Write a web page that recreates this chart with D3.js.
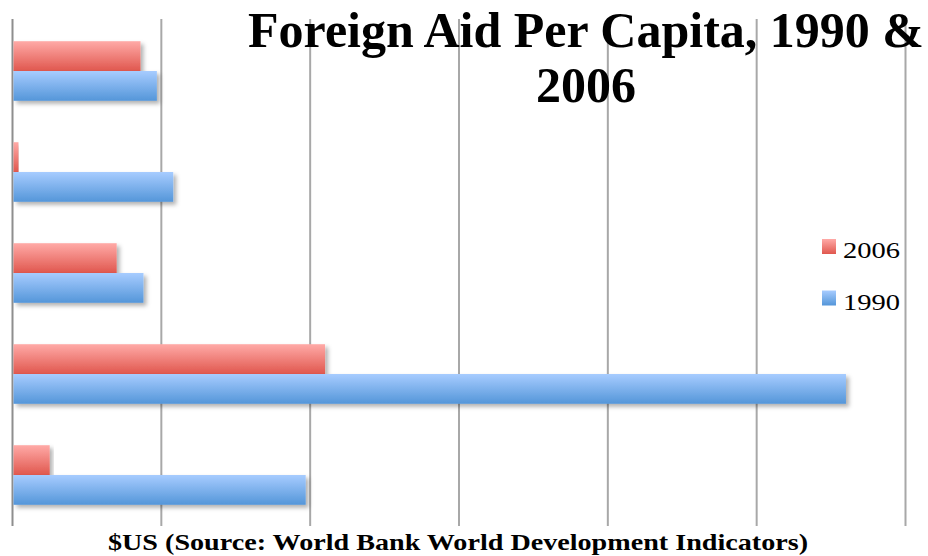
<!DOCTYPE html>
<html>
<head>
<meta charset="utf-8">
<script src="https://cdn.jsdelivr.net/npm/d3@7"></script>
<style>
  html, body { margin: 0; padding: 0; background: #fff; }
  svg { display: block; }
</style>
</head>
<body>
<div id="chart"></div>
<script>
// data (aid per capita, $US); category labels are not shown in the chart
const categories = ['Country A', 'Country B', 'Country C', 'Country D', 'Country E']
const series = ['2006', '1990']
const values2006 = [8.6, 0.4, 7.0, 21.0, 2.5]
const values1990 = [9.7, 10.8, 8.8, 56.0, 19.7]
const xTicks = [0, 10, 20, 30, 40, 50, 60]

const width = 928
const height = 556

const svg = d3.select('#chart')
    .append('svg')
    .attr('width', width)
    .attr('height', height)

const defs = svg.append('defs')

const gradients = {
    '2006': ['#ffaaa7', '#e0574e'],
    '1990': ['#a7ccff', '#5496d9']
}

Object.entries(gradients).forEach(([key, [top, bottom]]) => {
    const g = defs.append('linearGradient')
        .attr('id', 'grad-' + key)
        .attr('x1', '0%')
        .attr('y1', '0%')
        .attr('x2', '0%')
        .attr('y2', '100%')
    g.append('stop').attr('offset', '0%').attr('stop-color', top)
    g.append('stop').attr('offset', '100%').attr('stop-color', bottom)
})

defs.append('filter')
    .attr('id', 'shadow')
    .attr('x', '-5%')
    .attr('y', '-20%')
    .attr('width', '115%')
    .attr('height', '160%')
    .append('feDropShadow')
    .attr('dx', 3)
    .attr('dy', 3)
    .attr('stdDeviation', 2)
    .attr('flood-color', '#000')
    .attr('flood-opacity', 0.3)

const x = d3.scaleLinear()
    .domain([0, 60])
    .range([12.5, 905.5])

const y = d3.scaleBand()
    .domain(categories)
    .range([20.5, 525.5])
    .paddingInner(0.41)
    .paddingOuter(0.205)

const ySub = d3.scaleBand()
    .domain(series)
    .range([0, y.bandwidth()])

// gridlines
svg.append('g')
    .selectAll('line')
    .data(xTicks)
    .join('line')
    .attr('x1', d => x(d))
    .attr('x2', d => x(d))
    .attr('y1', 19)
    .attr('y2', 526)
    .attr('stroke', d => d === 0 ? '#8e8e8e' : '#a8a8a8')
    .attr('stroke-width', 2)

// bars
const rows = categories.map((c, i) => ({ cat: c, '2006': values2006[i], '1990': values1990[i] }))

svg.append('g')
    .selectAll('g')
    .data(rows)
    .join('g')
    .attr('transform', d => `translate(0,${y(d.cat)})`)
    .selectAll('rect')
    .data(d => series.map(s => ({ key: s, value: d[s] })))
    .join('rect')
    .attr('x', x(0) + 1)
    .attr('y', d => ySub(d.key))
    .attr('width', d => x(d.value) - x(0) - 1)
    .attr('height', ySub.bandwidth())
    .attr('fill', d => `url(#grad-${d.key})`)
    .attr('filter', 'url(#shadow)')

// title
const title = svg.append('text')
    .attr('text-anchor', 'middle')
    .attr('font-family', 'Liberation Serif, serif')
    .attr('font-weight', 'bold')
    .attr('font-size', 50)
    .attr('fill', '#000')

title.append('tspan').attr('x', 586).attr('y', 47).text('Foreign Aid Per Capita, 1990 &')
title.append('tspan').attr('x', 586).attr('y', 102).text('2006')

// x axis label
svg.append('text')
    .attr('x', 458)
    .attr('y', 550)
    .attr('text-anchor', 'middle')
    .attr('font-family', 'Liberation Serif, serif')
    .attr('font-weight', 'bold')
    .attr('font-size', 24)
    .attr('textLength', 700)
    .attr('lengthAdjust', 'spacingAndGlyphs')
    .attr('fill', '#000')
    .text('$US (Source: World Bank World Development Indicators)')

// legend
const legend = svg.append('g')
    .selectAll('g')
    .data(series)
    .join('g')
    .attr('transform', (d, i) => `translate(822,${239 + i * 51.5})`)

legend.append('rect')
    .attr('width', 14)
    .attr('height', 15)
    .attr('fill', d => `url(#grad-${d})`)

legend.append('text')
    .attr('x', 21)
    .attr('y', 19)
    .attr('font-family', 'Liberation Serif, serif')
    .attr('font-size', 23)
    .attr('textLength', 57)
    .attr('lengthAdjust', 'spacingAndGlyphs')
    .attr('fill', '#000')
    .text(d => d)
</script>
</body>
</html>
